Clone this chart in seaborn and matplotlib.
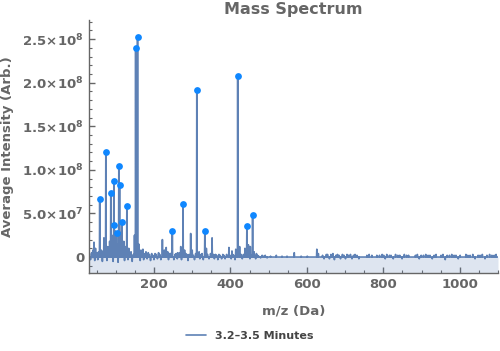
import numpy as np
import pandas as pd
import seaborn as sns
import matplotlib.pyplot as plt
from matplotlib.ticker import FuncFormatter, MultipleLocator

# ===========================================================
# Données (lues sur le spectre de référence)
# ===========================================================

# pics annotés (points bleus)
peak_mz = [58, 74, 87, 95, 96, 102, 108, 110, 116, 129, 152, 157,
           248, 276, 312, 333, 419, 443, 458]
peak_int = [6.7e7, 1.21e8, 7.4e7, 8.7e7, 3.7e7, 2.8e7, 1.04e8, 8.3e7, 4.0e7, 5.9e7,
            2.40e8, 2.53e8, 3.0e7, 6.1e7, 1.92e8, 3.0e7, 2.08e8, 3.6e7, 4.8e7]

# pics secondaires (sans marqueur), en 1e6
minor_mz = [43, 47, 62, 69, 79, 84, 90, 98, 100, 104, 113, 121, 125, 134, 140,
            149, 155, 160, 166, 171, 222, 227, 232, 236, 262, 270, 280, 296, 300,
            318, 337, 352, 396, 404, 414, 424, 438, 447, 452, 462, 468, 567, 626, 630]
minor_int = [17, 10, 8, 22, 12, 18, 25, 30, 20, 15, 28, 18, 12, 10, 6,
             25, 30, 15, 8, 9, 20, 8, 11, 6, 5, 12, 8, 27, 8,
             6, 10, 22, 11, 7, 9, 12, 10, 14, 12, 6, 4, 5, 9, 4]

# bruit de fond, en 1e6
noise_mz = [31, 34, 37, 40, 45, 50, 53, 55, 61, 65, 67, 71, 77, 81, 83, 89, 93, 99,
            106, 111, 118, 123, 127, 132, 137, 140, 143, 146, 162, 164, 168, 170,
            173, 176, 179, 182, 185, 188, 191, 194, 197, 200, 203, 206, 209, 212,
            215, 218, 225, 229, 238, 241, 243, 246, 252, 255, 258, 261, 265, 267,
            272, 283, 286, 289, 292, 303, 306, 309, 316, 320, 323, 326, 329, 336,
            340, 344, 348, 356, 358, 361, 364, 367, 370, 373, 377, 380, 383, 386,
            390, 399, 402, 406, 409, 412, 426, 428, 431, 434, 437, 449, 451, 454,
            463, 466, 471, 474, 479, 483, 487, 491, 496, 505, 520, 535, 548, 585,
            601, 641, 645, 651, 654, 659, 663, 668, 672, 676, 680, 684, 688, 693,
            697, 701, 705, 709, 714, 718, 722, 726, 731, 736, 757, 763, 770, 783,
            790, 797, 801, 805, 809, 816, 820, 826, 832, 838, 843, 849, 855, 861,
            866, 884, 889, 894, 899, 905, 911, 917, 922, 928, 933, 938, 951, 956,
            962, 967, 973, 979, 985, 990, 996, 1001, 1016, 1021, 1027, 1034, 1040,
            1048, 1053, 1059, 1066, 1071, 1078, 1084, 1090, 1095]
noise_int = [4, -3, 5, 8, -4, 5, -3, 6, 4, -5, 7, 5, -4, 6, 9, 7, -5, 8,
             -6, 9, 7, -4, 6, -3, 5, 4, -5, 3, 6, -4, 5, 7,
             -3, 4, 6, -2, 5, 3, -4, 4, 2, -3, 4, 3, -2, 5,
             3, -3, 4, 3, -3, 4, 2, 5, -3, 3, 4, -2, 3, 5,
             -3, 4, 3, -4, 3, 2, -3, 4, 3, -2, 3, 4, -3, 2,
             3, -2, 4, 3, -2, 3, 2, -3, 3, 2, -2, 3, 2, -2,
             3, 2, -2, 3, 2, -3, 2, 3, -2, 3, 2, 3, -2, 2,
             2, -2, 2, 1, -1, 2, 1, 2, -1, 1, 2, 1, 1, 1,
             1, 2, -2, 3, 3, -2, 3, 4, -3, 2, 3, 2, -2, 3,
             2, -2, 3, 2, 3, -2, 2, 3, 2, -2, 2, 3, 2, 2,
             2, 3, 2, -2, 3, 2, 2, -2, 3, 2, 2, -2, 3, 2,
             2, 2, 3, -2, 2, 2, 3, 2, 2, -2, 2, 3, 2, 3,
             -3, 2, 2, 3, 2, 2, -2, 2, 3, 2, 2, 3, -2, 2,
             2, 3, -2, 2, 3, 2, 2, 3, 2]

series_label = "3.2\u20133.5 Minutes"

# ===========================================================
# Construction du profil (chaque pic revient à la ligne de base)
# ===========================================================

feat_mz = peak_mz + minor_mz + noise_mz
feat_int = peak_int + [v * 1e6 for v in minor_int] + [v * 1e6 for v in noise_int]

rows = []
for m, v in zip(feat_mz, feat_int):
    rows += [(m - 0.7, 0.0), (m, v), (m + 0.7, 0.0)]
rows += [(30, 0.0), (1100, 0.0)]
spec = pd.DataFrame(rows, columns=["mz", "intensity"]).sort_values("mz", kind="stable")
peaks = pd.DataFrame({"mz": peak_mz, "intensity": peak_int})

# ===========================================================
# Figure
# ===========================================================

sns.set_style("ticks")
plt.rcParams["font.family"] = ["DejaVu Sans"]
plt.rcParams["mathtext.default"] = "bf"

grey = "#666666"
line_col = "#5e81b5"
y_min, y_max = -1.84e7, 2.72e8

fig = plt.figure(figsize=(5.0, 3.51), dpi=100)
ax = fig.add_axes([0.178, 0.222, 0.818, 0.721])

ax.fill_between(spec["mz"], spec["intensity"], y_min, color=line_col, alpha=0.2, lw=0)
sns.lineplot(data=spec, x="mz", y="intensity", estimator=None, sort=False,
             color=line_col, lw=1.2, ax=ax, label=series_label, legend=False)
sns.scatterplot(data=peaks, x="mz", y="intensity", color="#0f87ff", s=24,
                linewidth=0, zorder=5, ax=ax, legend=False)

ax.set_xlim(30, 1100)
ax.set_ylim(y_min, y_max)


def sci(v, pos):
    if abs(v) < 1:
        return "0"
    e = int(np.floor(np.log10(abs(v))))
    return r"$%.1f\!\times\!10^{%d}$" % (v / 10 ** e, e)


ax.yaxis.set_major_locator(MultipleLocator(5e7))
ax.yaxis.set_minor_locator(MultipleLocator(1e7))
ax.yaxis.set_major_formatter(FuncFormatter(sci))
ax.xaxis.set_major_locator(MultipleLocator(200))
ax.xaxis.set_minor_locator(MultipleLocator(50))

for side in ["top", "right"]:
    ax.spines[side].set_visible(False)
for side in ["left", "bottom"]:
    ax.spines[side].set_color(grey)
    ax.spines[side].set_linewidth(1.0)

ax.tick_params(which="both", direction="in", color=grey, labelcolor=grey, labelsize=9.5)
ax.tick_params(which="major", length=4, width=1.0)
ax.tick_params(which="minor", length=2.5, width=0.8)
for lab in ax.get_xticklabels() + ax.get_yticklabels():
    lab.set_fontweight("bold")

ax.set_title("Mass Spectrum", fontsize=11.5, fontweight="bold", color=grey, pad=4)
ax.set_xlabel("m/z (Da)", fontsize=9.5, fontweight="bold", color=grey, labelpad=10)
ax.set_ylabel("Average Intensity (Arb.)", fontsize=9.5, fontweight="bold", color=grey, labelpad=6)

fig.legend(loc="center", bbox_to_anchor=(0.5, 0.043), frameon=False, handlelength=1.8,
           prop={"size": 8, "weight": "bold"}, labelcolor="#444444")

fig.savefig("out.png", dpi=100)
